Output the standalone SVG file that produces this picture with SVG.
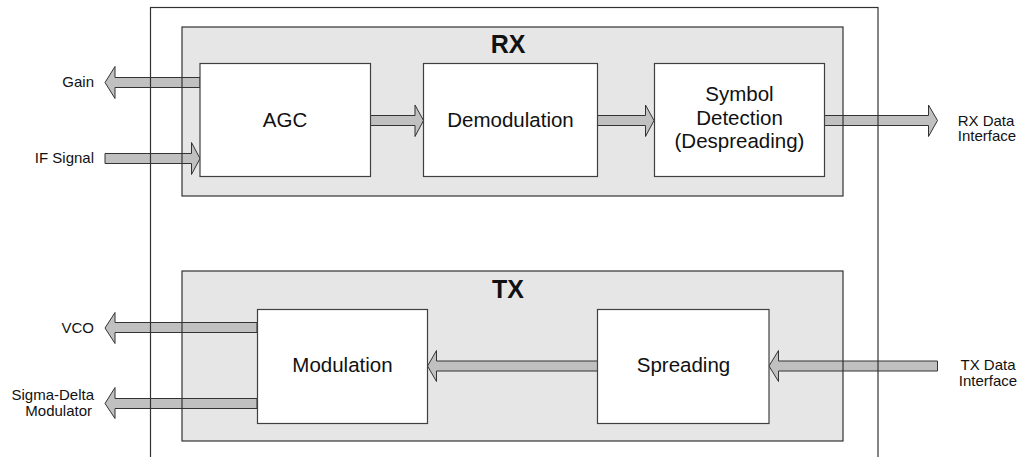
<svg xmlns="http://www.w3.org/2000/svg" width="1022" height="457" viewBox="0 0 1022 457">
<style>
.cont{fill:#e6e6e6;stroke:none}
.contb{fill:none;stroke:#333333;stroke-width:1.2}
.box{fill:#ffffff;stroke:#404040;stroke-width:1.2}
.arr{fill:#c0c0c0;stroke:#333333;stroke-width:1}
.lbl{font-family:"Liberation Sans",Arial,sans-serif;font-size:15px;fill:#111111}
.btxt{font-family:"Liberation Sans",Arial,sans-serif;font-size:20.5px;fill:#111111;text-anchor:middle}
.ttl{font-family:"Liberation Sans",Arial,sans-serif;font-size:25px;font-weight:bold;fill:#111111;text-anchor:middle}
</style>
<rect width="1022" height="457" fill="#ffffff"/>
<g id="rx-container">
<rect class="cont" x="182" y="27" width="661" height="169"/>
<text class="ttl" x="508" y="53">RX</text>
</g>
<g id="tx-container">
<rect class="cont" x="182" y="271" width="661" height="170"/>
<text class="ttl" x="508" y="298">TX</text>
</g>
<g id="connectors">
<path class="arr" d="M200,77.5 H115 V66.5 L105,82.5 L115,98.5 V87.5 H200 Z"/>
<path class="arr" d="M105,153.5 H191.5 V142.5 L200,158.5 L191.5,174.5 V163.5 H105 Z"/>
<path class="arr" d="M370.5,115.5 H415 V105 L423.5,120.5 L415,136.5 V125.5 H370.5 Z"/>
<path class="arr" d="M597.5,115.5 H645.5 V105 L654,120.5 L645.5,136.5 V125.5 H597.5 Z"/>
<path class="arr" d="M824,115.5 H928.5 V105 L937.5,120.5 L928.5,136.5 V125.5 H824 Z"/>
<path class="arr" d="M257,322.5 H115 V312.5 L105,328 L115,343.5 V332.5 H257 Z"/>
<path class="arr" d="M257,398.5 H115 V387.5 L105,403.5 L115,418.5 V408.5 H257 Z"/>
<path class="arr" d="M597.5,361 H436.5 V350.5 L427.5,366 L436.5,381.5 V371 H597.5 Z"/>
<path class="arr" d="M937.5,361 H778.5 V350.5 L769,366 L778.5,381.5 V371 H937.5 Z"/>
</g>
<g id="frame">
<rect class="contb" x="150.5" y="7.5" width="727.5" height="470"/>
<rect class="contb" x="182" y="27" width="661" height="169"/>
<rect class="contb" x="182" y="271" width="661" height="170"/>
</g>
<g id="agc">
<rect class="box" x="200" y="63.5" width="170.5" height="113"/>
<text class="btxt" x="285" y="127">AGC</text>
</g>
<g id="demodulation">
<rect class="box" x="423.5" y="63.5" width="174" height="113"/>
<text class="btxt" x="510.5" y="127">Demodulation</text>
</g>
<g id="symbol-detection">
<rect class="box" x="654.5" y="63.5" width="170" height="113"/>
<text class="btxt" x="739.5" y="101">Symbol</text>
<text class="btxt" x="739.5" y="124.5">Detection</text>
<text class="btxt" x="739.5" y="148">(Despreading)</text>
</g>
<g id="modulation">
<rect class="box" x="257.5" y="309.5" width="170" height="114"/>
<text class="btxt" x="342.5" y="372">Modulation</text>
</g>
<g id="spreading">
<rect class="box" x="597.5" y="309.5" width="171.5" height="114"/>
<text class="btxt" x="683.5" y="372">Spreading</text>
</g>
<g id="labels">
<text class="lbl" x="94" y="87" text-anchor="end">Gain</text>
<text class="lbl" x="94" y="163" text-anchor="end">IF Signal</text>
<text class="lbl" x="94" y="333" text-anchor="end">VCO</text>
<text class="lbl" x="94" y="400" text-anchor="end">Sigma-Delta</text>
<text class="lbl" x="92" y="416" text-anchor="end">Modulator</text>
<text class="lbl" x="986" y="125.5" text-anchor="middle">RX Data</text>
<text class="lbl" x="987" y="141" text-anchor="middle">Interface</text>
<text class="lbl" x="988" y="370" text-anchor="middle">TX Data</text>
<text class="lbl" x="988" y="386" text-anchor="middle">Interface</text>
</g>
</svg>
